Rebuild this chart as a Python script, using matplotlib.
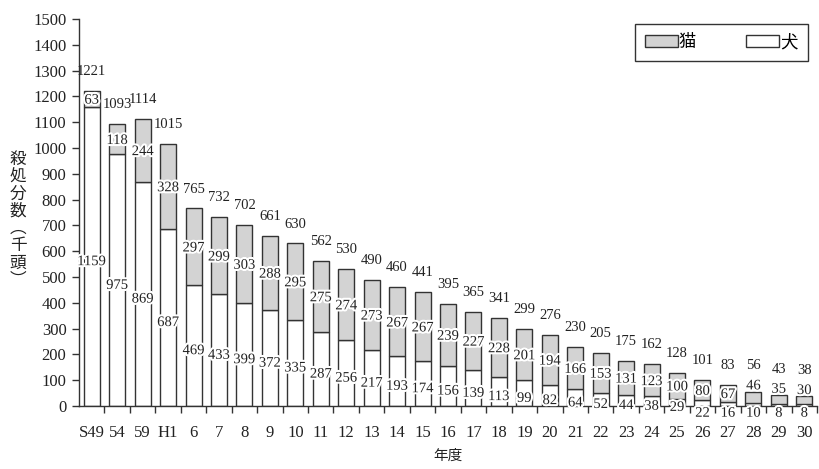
import matplotlib
matplotlib.use('Agg')
import matplotlib.pyplot as plt
import matplotlib.patheffects as pe
from matplotlib.patches import Patch
import numpy as np

plt.rcParams['font.family'] = ['Liberation Serif', 'Noto Sans CJK JP', 'DejaVu Sans']

years = ['S49', '54', '59', 'H1'] + [str(y) for y in range(6, 31)]
dogs = [1159, 975, 869, 687, 469, 433, 399, 372, 335, 287, 256, 217, 193, 174,
        156, 139, 113, 99, 82, 64, 52, 44, 38, 29, 22, 16, 10, 8, 8]
cats = [63, 118, 244, 328, 297, 299, 303, 288, 295, 275, 274, 273, 267, 267,
        239, 227, 228, 201, 194, 166, 153, 131, 123, 100, 80, 67, 46, 35, 30]
totals = [1221, 1093, 1114, 1015, 765, 732, 702, 661, 630, 562, 530, 490, 460,
          441, 395, 365, 341, 299, 276, 230, 205, 175, 162, 128, 101, 83, 56,
          43, 38]

CAT_GRAY = '#d3d3d3'
EDGE = '#333333'
TXT = '#222222'

fig = plt.figure(figsize=(8.2, 4.69), dpi=100)
ax = fig.add_axes([79/820, 1 - 406/469, 738/820, 387/469])

x = np.arange(len(years))
w = 0.63
ax.bar(x, dogs, w, color='white', edgecolor=EDGE, linewidth=1)
ax.bar(x, cats, w, bottom=dogs, color=CAT_GRAY, edgecolor=EDGE, linewidth=1)

halo = [pe.withStroke(linewidth=3, foreground='white')]
for i in range(len(years)):
    d, c, t = dogs[i], cats[i], totals[i]
    # dog value
    dy = d / 2 - 20 if d >= 29 else -28
    ax.text(x[i], dy, str(d), ha='center', va='center', fontsize=10.5,
            color=TXT, path_effects=halo, zorder=5)
    # cat value, and total above the bar
    if c >= 50:
        cy = d + c / 2 - 5
        ty = t + 75
    else:
        cy = t + 22
        ty = t + 100
    ax.text(x[i], cy, str(c), ha='center', va='center', fontsize=10.5,
            color=TXT, path_effects=halo, zorder=5)
    ax.text(x[i], ty, str(t), ha='center', va='center', fontsize=10.5,
            color=TXT, zorder=5)

ax.set_xlim(-0.5, 28.5)
ax.set_ylim(0, 1500)
ax.set_yticks(np.arange(0, 1501, 100))
ax.set_xticks(x)
ax.set_xticklabels(years)
ax.set_xticks(np.arange(0.5, 29, 1), minor=True)
ax.tick_params(axis='x', which='major', length=0, pad=14, labelsize=12, colors=TXT)
ax.tick_params(axis='x', which='minor', length=5, width=1, color=EDGE)
ax.tick_params(axis='y', length=5, width=1, pad=4, labelsize=12, colors=TXT)
ax.tick_params(axis='y', color=EDGE)

for s in ['top', 'right']:
    ax.spines[s].set_visible(False)
for s in ['left', 'bottom']:
    ax.spines[s].set_color(EDGE)
    ax.spines[s].set_linewidth(1)

ax.set_xlabel('年度', fontsize=10.5, color=TXT, labelpad=6)
fig.text(0.022, 0.53, '\n'.join('殺処分数︵千頭︶'), ha='center', va='center',
         fontsize=12, color=TXT, linespacing=1.1)

handles = [Patch(facecolor=CAT_GRAY, edgecolor=EDGE, label='猫'),
           Patch(facecolor='white', edgecolor=EDGE, label='犬')]
leg = ax.legend(handles=handles, ncol=2, loc='upper right',
                bbox_to_anchor=(0.988, 0.987), borderaxespad=0,
                fontsize=12.5, frameon=True,
                fancybox=False, edgecolor=EDGE, framealpha=1,
                handlelength=1.9, handleheight=0.65, handletextpad=0.05,
                columnspacing=2.9, borderpad=0.6)
leg.get_frame().set_linewidth(1)

fig.savefig('out.png', dpi=100)
